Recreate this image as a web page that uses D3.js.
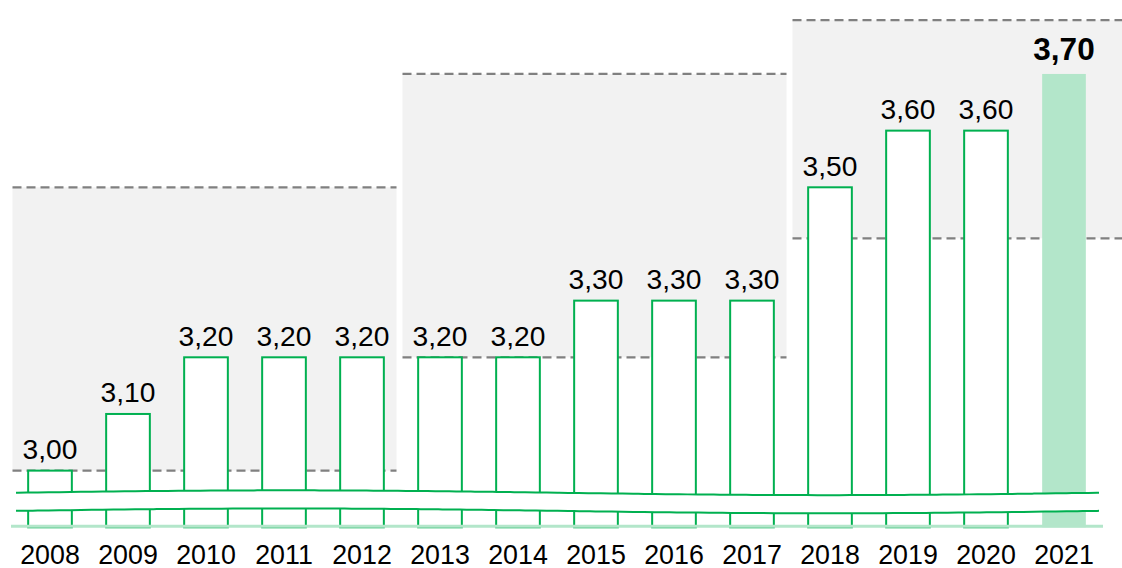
<!DOCTYPE html>
<html>
<head>
<meta charset="utf-8">
<script src="https://cdn.jsdelivr.net/npm/d3@7/dist/d3.min.js"></script>
<style>
  html, body { margin: 0; padding: 0; background: #fff; }
  svg { display: block; }
  text { font-family: "Liberation Sans", Arial, sans-serif; fill: #000; }
</style>
</head>
<body>
<svg id="chart" width="1122" height="568"></svg>
<script>
// ---- data ----
const years  = ["2008","2009","2010","2011","2012","2013","2014","2015","2016","2017","2018","2019","2020","2021"];
const values = [3.00, 3.10, 3.20, 3.20, 3.20, 3.20, 3.20, 3.30, 3.30, 3.30, 3.50, 3.60, 3.60, 3.70];
const labels = ["3,00","3,10","3,20","3,20","3,20","3,20","3,20","3,30","3,30","3,30","3,50","3,60","3,60","3,70"];
const highlightYear = "2021";
// period bands (gray boxes with dashed limits)
const periodStart = ["2008", "2013", "2018"];
const periodEnd   = ["2012", "2017", "2021"];
const periodLow   = [3.00, 3.20, 3.41];
const periodHigh  = [3.50, 3.70, 3.795];
const baseValue = 2.90;     // value at the (broken) baseline
const breakUpper = 2.961;   // axis break, upper edge
const breakLower = 2.929;   // axis break, lower edge

// ---- layout ----
const W = 1122, H = 568;
const svg = d3.select("#chart");
const green = "#00b050", lightGreen = "#b3e6ca", grayBg = "#f2f2f2", dashGray = "#808080";

const x = d3.scaleBand().domain(years).range([11, 1103]).paddingInner(0.44).paddingOuter(0.22);
const y = d3.scaleLinear().domain([2.9, 3.8]).range([527.3, 17.3]);
const step = x.step(), bw = x.bandwidth();
const edgeL = d => x(d) - step * 0.22;
const edgeR = d => x(d) + bw + step * 0.22;

// gray period boxes
const periods = periodStart.map((s, i) => ({
  x0: edgeL(s) + 1.5,
  x1: i === periodStart.length - 1 ? W : edgeR(periodEnd[i]) - 4.5,
  lo: periodLow[i], hi: periodHigh[i]
}));
svg.append("g").selectAll("rect").data(periods).join("rect")
  .attr("x", d => d.x0).attr("width", d => d.x1 - d.x0)
  .attr("y", d => y(d.hi)).attr("height", d => y(d.lo) - y(d.hi))
  .attr("fill", grayBg);

const dashG = svg.append("g").attr("stroke", dashGray).attr("stroke-width", 2.2).attr("stroke-dasharray", "9,5");
periods.forEach(p => {
  [p.lo, p.hi].forEach(v => {
    dashG.append("line").attr("x1", p.x0).attr("x2", p.x1).attr("y1", y(v)).attr("y2", y(v));
  });
});

// bars
const data = years.map((yr, i) => ({ yr, v: values[i], lab: labels[i], hl: yr === highlightYear }));
svg.append("g").selectAll("rect").data(data).join("rect")
  .attr("x", d => x(d.yr)).attr("width", bw)
  .attr("y", d => y(d.v)).attr("height", d => y(baseValue) - y(d.v))
  .attr("fill", d => d.hl ? lightGreen : "#fff")
  .attr("stroke", d => d.hl ? "none" : green)
  .attr("stroke-width", 2);

// axis break (wavy)
const wx0 = 16, wx1 = 1099, amp = 2.4;
const wavePts = d3.range(0, 1.0001, 0.01).map(t => [wx0 + t * (wx1 - wx0), -amp * Math.sin(2 * Math.PI * t)]);
const area = d3.area().x(d => d[0]).y0(d => y(breakUpper) + d[1]).y1(d => y(breakLower) + d[1]).curve(d3.curveBasis);
svg.append("path").datum(wavePts).attr("d", area).attr("fill", "#fff");
[breakUpper, breakLower].forEach(bv => {
  svg.append("path").datum(wavePts)
    .attr("d", d3.line().x(d => d[0]).y(d => y(bv) + d[1]).curve(d3.curveBasis))
    .attr("fill", "none").attr("stroke", green).attr("stroke-width", 2);
});

// baseline
svg.append("line").attr("x1", 11).attr("x2", 1103).attr("y1", y(baseValue) - 1).attr("y2", y(baseValue) - 1)
  .attr("stroke", lightGreen).attr("stroke-width", 3);

// value labels
svg.append("g").selectAll("text").data(data).join("text")
  .attr("x", d => x(d.yr) + bw / 2)
  .attr("y", d => y(d.v) - (d.hl ? 13.5 : 11.5))
  .attr("text-anchor", "middle")
  .attr("font-size", d => d.hl ? 31.5 : 28.2)
  .attr("font-weight", d => d.hl ? "bold" : "normal")
  .text(d => d.lab);

// x axis labels
const xAxis = d3.axisBottom(x).tickSize(0).tickPadding(0);
const ax = svg.append("g").attr("transform", "translate(0,563.5)").call(xAxis);
ax.select(".domain").remove();
ax.selectAll("text").attr("font-size", 26.8).attr("dy", "0").attr("y", 0)
  .style("font-family", '"Liberation Sans", Arial, sans-serif').attr("fill", "#000");
</script>
</body>
</html>
